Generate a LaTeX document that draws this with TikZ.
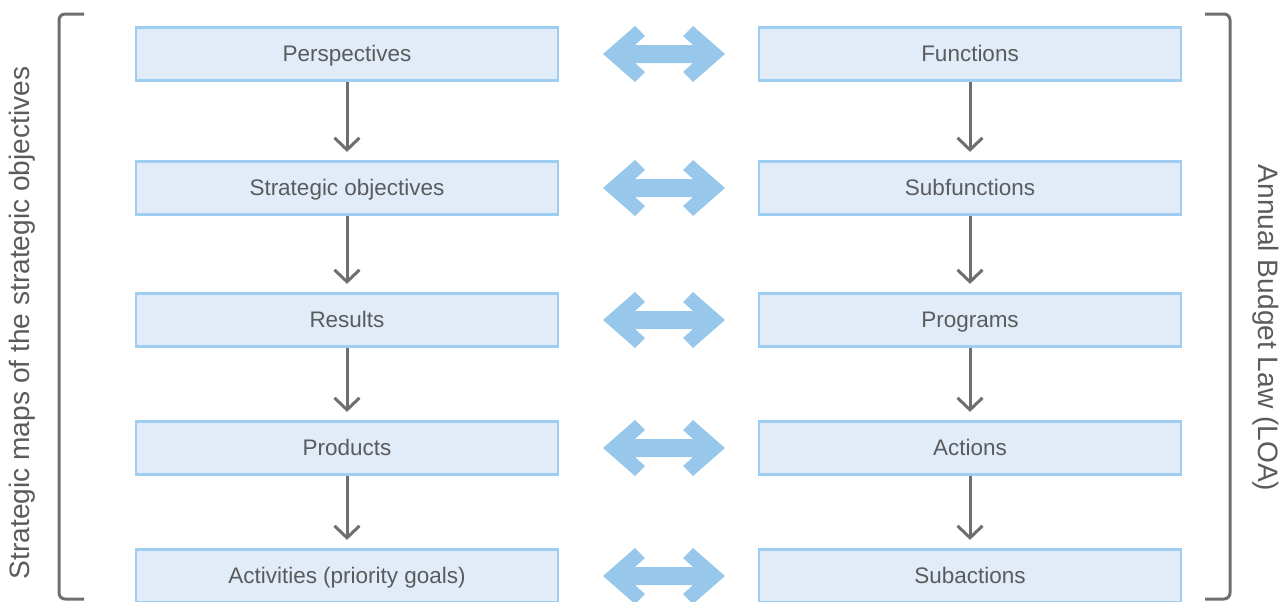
\documentclass[tikz,border=0pt]{standalone}
\usepackage{fontspec}
\setmainfont{Liberation Sans}
\usetikzlibrary{arrows.meta}
\definecolor{boxfill}{HTML}{E2ECF8}
\definecolor{boxline}{HTML}{9DCDF0}
\definecolor{dblarrow}{HTML}{97C8EC}
\definecolor{greyline}{HTML}{6D6E70}
\definecolor{greytext}{HTML}{5A5B5D}
\tikzset{
  box/.style={draw=boxline, fill=boxfill, line width=0.045cm, minimum width=8.44cm, minimum height=1.06cm,
    inner sep=0pt, text height=9.2pt, text depth=1pt, font=\fontsize{12.8pt}{15pt}\selectfont, text=greytext},
  downarrow/.style={draw=greyline, line width=0.06cm, shorten >=0.17cm,
    -{Straight Barb[length=0.24cm, width=0.5cm]}},
  bracket/.style={draw=greyline, line width=0.06cm, rounded corners=0.12cm},
  sidelabel/.style={font=\fontsize{16pt}{19pt}\selectfont, text=greytext, inner sep=0pt},
  dbl/.style={fill=dblarrow, draw=none}
}
\begin{document}
\begin{tikzpicture}[x=0.02cm, y=-0.02cm]
\useasboundingbox (0,0) rectangle (1282,602);
\clip (0,0) rectangle (1282,602);
% left column
\node[box] (l1) at (347,54) {Perspectives};
\node[box] (l2) at (347,188) {Strategic objectives};
\node[box] (l3) at (347,320) {Results};
\node[box] (l4) at (347,448) {Products};
\node[box] (l5) at (347,576) {Activities (priority goals)};
% right column
\node[box] (r1) at (970,54) {Functions};
\node[box] (r2) at (970,188) {Subfunctions};
\node[box] (r3) at (970,320) {Programs};
\node[box] (r4) at (970,448) {Actions};
\node[box] (r5) at (970,576) {Subactions};
% vertical arrows
\foreach \a/\b in {l1/l2, l2/l3, l3/l4, l4/l5, r1/r2, r2/r3, r3/r4, r4/r5}
  \draw[downarrow] (\a.south) -- (\b.north);
% double arrows
\foreach \yc in {54,188,320,448,576}{
  \begin{scope}[shift={(664,\yc)}]
    \fill[dbl] (-61,0) -- (-29,-28) -- (-19,-18) -- (-29,-9) -- (29,-9) -- (19,-18) -- (29,-28)
      -- (61,0) -- (29,28) -- (19,18) -- (29,9) -- (-29,9) -- (-19,18) -- (-29,28) -- cycle;
  \end{scope}
}
% brackets
\coordinate (bl1) at (84,14);
\coordinate (bl2) at (59,14);
\coordinate (bl3) at (59,599);
\coordinate (bl4) at (84,599);
\draw[bracket] (bl1) -- (bl2) -- (bl3) -- (bl4);
\coordinate (br1) at (1205,14);
\coordinate (br2) at (1230,14);
\coordinate (br3) at (1230,599);
\coordinate (br4) at (1205,599);
\draw[bracket] (br1) -- (br2) -- (br3) -- (br4);
% side labels
\node[sidelabel, rotate=90] (sl) at (22,323) {Strategic maps of the strategic objectives};
\node[sidelabel, rotate=-90] (sr) at (1266,328) {Annual Budget Law (LOA)};
\end{tikzpicture}
\end{document}
